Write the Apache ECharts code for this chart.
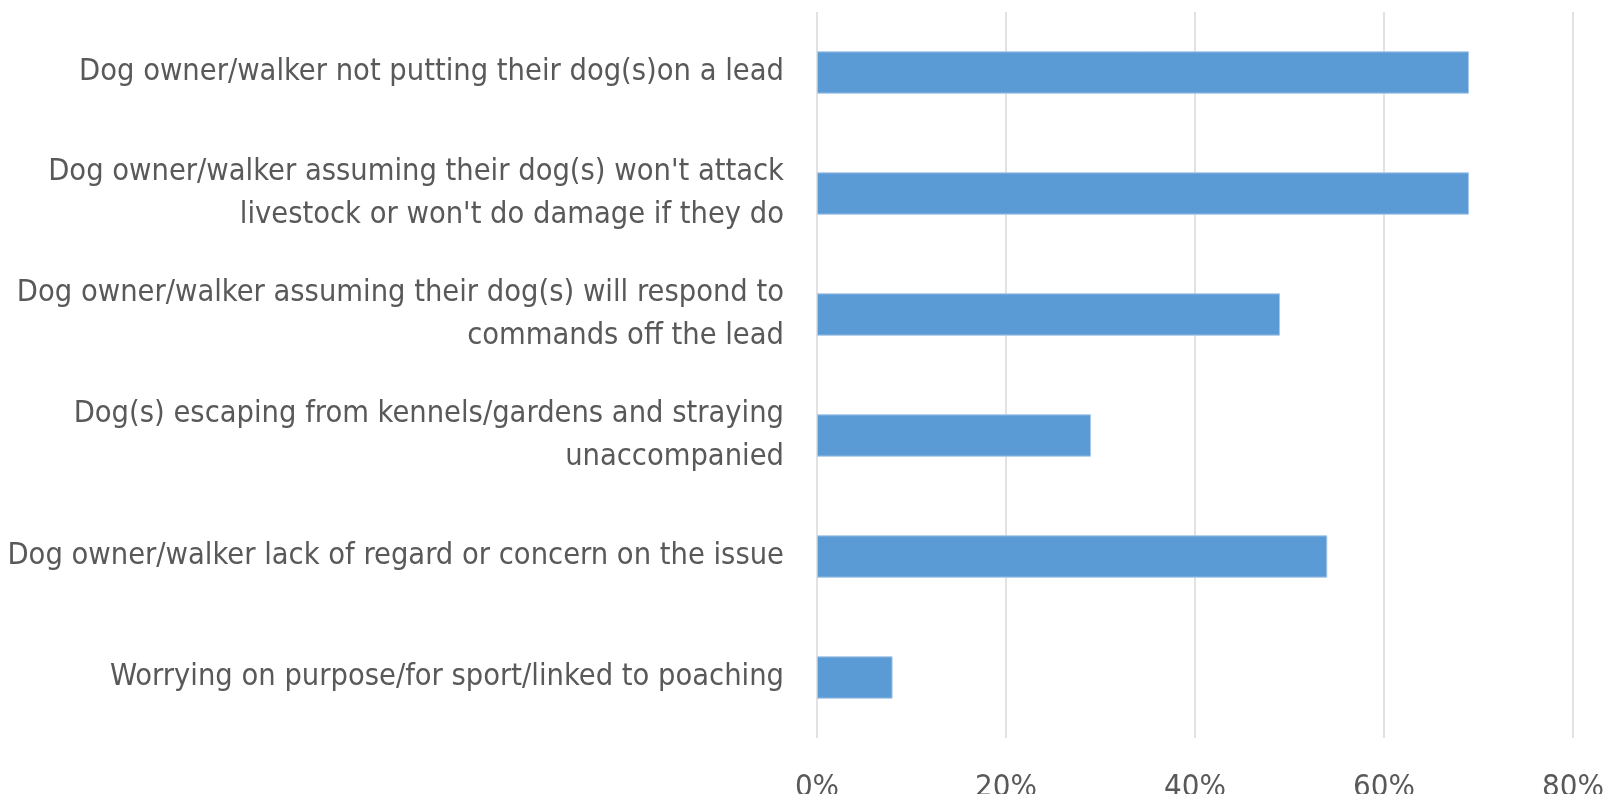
<!DOCTYPE html>
<html>
<head>
<meta charset="utf-8">
<script src="https://cdn.jsdelivr.net/npm/echarts@6/dist/echarts.min.js"></script>
<style>html,body{margin:0;padding:0;background:#fff}#c{width:1605px;height:794px}</style>
</head>
<body>
<div id="c"></div>
<script>
const categories = [
  "Dog owner/walker not putting their dog(s)on a lead",
  "Dog owner/walker assuming their dog(s) won't attack\nlivestock or won't do damage if they do",
  "Dog owner/walker assuming their dog(s) will respond to\ncommands off the lead",
  "Dog(s) escaping from kennels/gardens and straying\nunaccompanied",
  "Dog owner/walker lack of regard or concern on the issue",
  "Worrying on purpose/for sport/linked to poaching"
];
const values = [69, 69, 49, 29, 54, 8];
const xTicks = [0, 20, 40, 60, 80];

const FONT = "'Liberation Sans Narrow', 'DejaVu Sans Condensed', 'Noto Sans', sans-serif";
const chart = echarts.init(document.getElementById('c'), null, {renderer: 'canvas'});
chart.setOption({
  animation: false,
  grid: {left: 817, right: 32, top: 12, bottom: 56, containLabel: false, outerBoundsMode: 'none'},
  xAxis: {
    type: 'value', min: xTicks[0], max: xTicks[xTicks.length - 1], interval: 20,
    axisLine: {show: false}, axisTick: {show: false},
    splitLine: {show: true, lineStyle: {color: '#d9d9d9', width: 1.5}},
    axisLabel: {formatter: v => v + '%', color: '#595959', fontSize: 31, fontFamily: FONT, margin: 34}
  },
  yAxis: {
    type: 'category', data: categories, inverse: true,
    axisLine: {show: false}, axisTick: {show: false},
    axisLabel: {color: '#595959', fontSize: 30.5, fontFamily: FONT, margin: 33, align: 'right', lineHeight: 43}
  },
  series: [{
    type: 'bar', data: values, barWidth: '35%',
    itemStyle: {color: '#5b9bd5', borderColor: '#a9c8ea', borderWidth: 1}
  }]
});
</script>
</body>
</html>
